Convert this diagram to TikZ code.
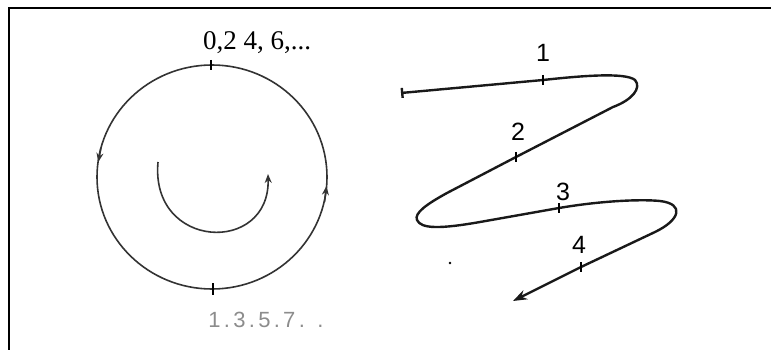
\documentclass[tikz,border=0pt]{standalone}
\usepackage{fontspec}
\setmainfont{Liberation Serif}
\newfontfamily\digitsans{Liberation Sans}
\newfontfamily\spacedsans[LetterSpace=15]{Liberation Sans}
\usetikzlibrary{arrows.meta}
\begin{document}
\begin{tikzpicture}[x=1pt,y=-1pt,every node/.style={inner sep=0pt},
  pen/.style={line width=1.6pt,black!80},
  zig/.style={line width=2.4pt,black!90},
  tickmark/.style={line width=1.6pt},
  steplabel/.style={font=\digitsans\fontsize{25}{25}\selectfont}]
  \useasboundingbox (0,0) rectangle (771,350);
  \draw[line width=1.5pt] (9,350) -- (9,8) -- (771,8);
  % circle on the left
  \coordinate (centre) at (212,177);
  \coordinate (top) at (211,65);
  \coordinate (bottom) at (213,289);
  \draw[pen] (centre) ellipse [x radius=115, y radius=112];
  \draw[tickmark] (top) ++(0,-5) -- ++(0,10);
  \draw[tickmark] (bottom) ++(0,-6) -- ++(0,12);
  \draw[pen,-{Stealth[length=9pt,width=7pt]}] (100.9,148) -- (98.3,162);
  \draw[pen,-{Stealth[length=9pt,width=7pt]}] (324.5,202) -- (326.5,186);
  \draw[pen,-{Stealth[length=9pt,width=7pt]}] (158,162) .. controls (150,250) and (270,255) .. (268,174);
  \node[font=\fontsize{27}{27}\selectfont] (even) at (257,43) {0,2 4, 6,...};
  \node[font=\spacedsans\fontsize{22}{22}\selectfont,text=black!45] (odd) at (266,320) {1.3.5.7. .};
  % zigzag on the right
  \coordinate (start) at (401,93);
  \coordinate (t1) at (543,80);
  \coordinate (t2) at (516,157);
  \coordinate (t3) at (559,208);
  \coordinate (t4) at (581,267);
  \coordinate (end) at (513,301);
  \draw[zig,{Bar[width=10pt]}-{Stealth[length=14pt,width=10pt]}] (start) -- (t1)
    .. controls (580,76) and (625,72) .. (635,80)
    .. controls (642,88) and (632,100) .. (613,107) -- (t2) -- (447,193)
    .. controls (427,204) and (414,213) .. (417,220)
    .. controls (421,229) and (440,229) .. (480,222) -- (t3)
    .. controls (600,201) and (640,199) .. (660,201)
    .. controls (685,204) and (680,220) .. (655,232) -- (t4) -- (end);
  \foreach \t in {t1,t2,t3,t4}
    \draw[tickmark] (\t) ++(0,-5) -- ++(0,10);
  \node[steplabel] (one) at (543,53) {1};
  \node[steplabel] (two) at (518,132) {2};
  \node[steplabel] (three) at (563,192) {3};
  \node[steplabel] (four) at (579,245) {4};
  \fill (450,263) circle (1.3);
\end{tikzpicture}
\end{document}
